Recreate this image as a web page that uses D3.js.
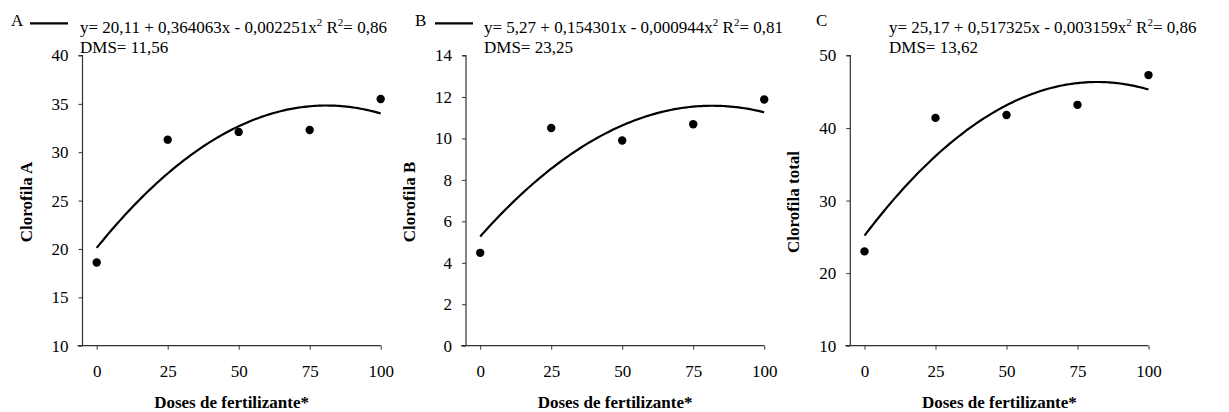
<!DOCTYPE html>
<html>
<head>
<meta charset="utf-8">
<script src="https://cdn.jsdelivr.net/npm/d3@7/dist/d3.min.js"></script>
<style>
  html, body { margin: 0; padding: 0; background: #fff; }
  svg { display: block; }
  text { font-family: "Liberation Serif", "Times New Roman", serif; fill: #000; }
</style>
</head>
<body>
<svg id="chart" width="1229" height="412"></svg>
<script>
// Doses applied (x) and measured chlorophyll for each panel
const doses = [0, 25, 50, 75, 100];
const clorofilaA = [18.6, 31.3, 32.1, 32.3, 35.5];
const clorofilaB = [4.48, 10.5, 9.9, 10.68, 11.88];
const clorofilaTotal = [23.0, 41.4, 41.8, 43.2, 47.3];

// Quadratic fits y = b0 + b1 x + b2 x^2 as printed on each panel
const coefA = [20.11, 0.364063, -0.002251];
const coefB = [5.27, 0.154301, -0.000944];
const coefTotal = [25.17, 0.517325, -0.003159];

const panelLetters = ["A", "B", "C"];
const yTitles = ["Clorofila A", "Clorofila B", "Clorofila total"];
const eqParts = [
  ["y= 20,11 + 0,364063x - 0,002251x", " R", "= 0,86"],
  ["y= 5,27 + 0,154301x - 0,000944x", " R", "= 0,81"],
  ["y= 25,17 + 0,517325x - 0,003159x", " R", "= 0,86"]
];
const dmsLabels = ["DMS= 11,56", "DMS= 23,25", "DMS= 13,62"];
const yDomains = [[10, 40], [0, 14], [10, 50]];
const yTickValues = [
  [10, 15, 20, 25, 30, 35, 40],
  [0, 2, 4, 6, 8, 10, 12, 14],
  [10, 20, 30, 40, 50]
];
const xTickValues = [0, 25, 50, 75, 100];
const xTitle = "Doses de fertilizante*";

const panels = [
  { y: clorofilaA, coef: coefA, legendLine: [30, 68], left: 82.5, eqX: 80, letterX: 11 },
  { y: clorofilaB, coef: coefB, legendLine: [435, 473], left: 466, eqX: 484, letterX: 415 },
  { y: clorofilaTotal, coef: coefTotal, legendLine: null, left: 850.3, eqX: 889, letterX: 816 }
];

const FS = "17px";
const svg = d3.select("#chart");
const plotW = 298.2, plotTop = 55.5, plotBottom = 345.7;

panels.forEach((p, i) => {
  const g = svg.append("g");
  const x = d3.scaleLinear().domain([-5, 100]).range([p.left, p.left + plotW]);
  const y = d3.scaleLinear().domain(yDomains[i]).range([plotBottom, plotTop]);

  // Y axis
  const yAxis = d3.axisLeft(y).tickValues(yTickValues[i]).tickSize(4).tickPadding(10)
    .tickFormat(d3.format("d"));
  const ya = g.append("g").attr("transform", `translate(${p.left},0)`).call(yAxis);
  ya.select(".domain").attr("d", `M-4,${plotTop}H0V${plotBottom}`).attr("stroke", "#333").attr("stroke-width", 1.2);
  ya.selectAll(".tick line").attr("stroke", "#333");
  ya.selectAll(".tick text").style("font-size", FS).style("font-family", "Liberation Serif");

  // X axis
  const xAxis = d3.axisBottom(x).tickValues(xTickValues).tickSize(4).tickPadding(15)
    .tickFormat(d3.format("d"));
  const xa = g.append("g").attr("transform", `translate(0,${plotBottom})`).call(xAxis);
  xa.select(".domain").attr("d", `M${p.left - 5},0H${x(100)}`).attr("stroke", "#333").attr("stroke-width", 1.2);
  xa.selectAll(".tick line").attr("stroke", "#333");
  xa.selectAll(".tick text").style("font-size", FS).style("font-family", "Liberation Serif");

  // Fitted curve
  const c = p.coef;
  const fit = d3.range(0, 100.5, 1).map(v => [v, c[0] + c[1] * v + c[2] * v * v]);
  g.append("path")
    .attr("d", d3.line().x(d => x(d[0])).y(d => y(d[1])).curve(d3.curveMonotoneX)(fit))
    .attr("fill", "none").attr("stroke", "#000").attr("stroke-width", 2.2);

  // Observed means
  g.selectAll("circle.pt").data(doses.map((d, k) => [d, p.y[k]])).join("circle")
    .attr("class", "pt")
    .attr("cx", d => x(d[0])).attr("cy", d => y(d[1])).attr("r", 4.2).attr("fill", "#000");

  // Axis titles
  g.append("text")
    .attr("transform", `translate(${p.left - 51},202) rotate(-90)`)
    .attr("text-anchor", "middle")
    .style("font-size", FS).style("font-weight", "bold")
    .text(yTitles[i]);
  g.append("text")
    .attr("x", (p.left + x(100)) / 2).attr("y", 407.5)
    .attr("text-anchor", "middle")
    .style("font-size", FS).style("font-weight", "bold")
    .text(xTitle);

  // Panel letter, legend line, equation and DMS
  g.append("text").attr("x", p.letterX).attr("y", 25.5)
    .style("font-size", FS).text(panelLetters[i]);
  if (p.legendLine) {
    g.append("line").attr("x1", p.legendLine[0]).attr("x2", p.legendLine[1])
      .attr("y1", 23.3).attr("y2", 23.3).attr("stroke", "#000").attr("stroke-width", 2.2);
  }
  const eq = g.append("text").attr("x", p.eqX).attr("y", 32.5).style("font-size", FS);
  const parts = eqParts[i];
  eq.append("tspan").text(parts[0]);
  eq.append("tspan").attr("dy", -7).style("font-size", "11px").text("2");
  eq.append("tspan").attr("dy", 7).text(parts[1]);
  eq.append("tspan").attr("dy", -7).style("font-size", "11px").text("2");
  eq.append("tspan").attr("dy", 7).text(parts[2]);
  g.append("text").attr("x", p.eqX).attr("y", 53).style("font-size", FS).text(dmsLabels[i]);
});
</script>
</body>
</html>
